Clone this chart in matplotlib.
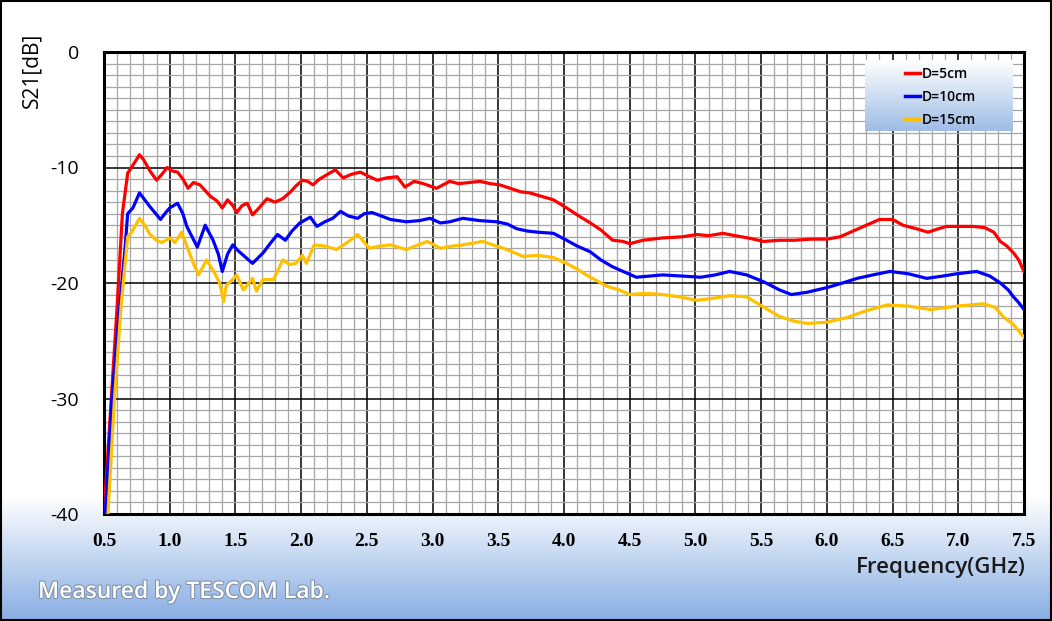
import numpy as np
import matplotlib
matplotlib.use("Agg")
import matplotlib.pyplot as plt
import matplotlib.patheffects as pe
from matplotlib.ticker import MultipleLocator, FixedLocator

# ---------------- data ----------------
freq_5cm = [
    0.50, 0.55, 0.60, 0.64, 0.68, 0.72, 0.77, 0.80, 0.85, 0.90,
    0.94, 0.98, 1.02, 1.06, 1.10, 1.14, 1.18, 1.23, 1.27, 1.31,
    1.36, 1.40, 1.44, 1.48, 1.51, 1.55, 1.59, 1.63, 1.68, 1.74,
    1.80, 1.86, 1.92, 1.96, 2.01, 2.05, 2.09, 2.14, 2.20, 2.26,
    2.32, 2.38, 2.45, 2.52, 2.58, 2.65, 2.73, 2.79, 2.86, 2.93,
    3.03, 3.13, 3.20, 3.28, 3.36, 3.44, 3.51, 3.59, 3.67, 3.74,
    3.80, 3.86, 3.92, 4.02, 4.10, 4.20, 4.28, 4.37, 4.45, 4.50,
    4.60, 4.75, 4.90, 5.01, 5.10, 5.21, 5.30, 5.40, 5.52, 5.64,
    5.75, 5.88, 6.00, 6.10, 6.18, 6.30, 6.40, 6.50, 6.58, 6.68,
    6.77, 6.85, 6.91, 7.00, 7.11, 7.20, 7.27, 7.32, 7.37, 7.42,
    7.46, 7.50]
s21_5cm = [
    -40, -31, -22, -14, -10.5, -9.8, -8.9, -9.3, -10.3, -11.1,
    -10.6, -10.0, -10.3, -10.4, -11.0, -11.8, -11.3, -11.5, -12.0, -12.5,
    -12.9, -13.5, -12.8, -13.3, -13.9, -13.3, -13.1, -14.1, -13.5, -12.7,
    -13.0, -12.7, -12.1, -11.6, -11.1, -11.2, -11.5, -11.0, -10.6, -10.2,
    -10.9, -10.6, -10.4, -10.8, -11.1, -10.9, -10.8, -11.7, -11.2, -11.4,
    -11.8, -11.2, -11.4, -11.3, -11.2, -11.4, -11.5, -11.8, -12.1, -12.2,
    -12.4, -12.6, -12.8, -13.5, -14.1, -14.8, -15.4, -16.3, -16.4, -16.6,
    -16.3, -16.1, -16.0, -15.8, -15.9, -15.7, -15.9, -16.1, -16.4, -16.3,
    -16.3, -16.2, -16.2, -16.0, -15.6, -15.0, -14.5, -14.5, -15.0, -15.3,
    -15.6, -15.3, -15.1, -15.1, -15.1, -15.2, -15.6, -16.4, -16.8, -17.4,
    -18.0, -19.0]

freq_10cm = [
    0.51, 0.56, 0.62, 0.66, 0.68, 0.72, 0.77, 0.81, 0.85, 0.93,
    0.97, 1.00, 1.06, 1.10, 1.13, 1.17, 1.21, 1.27, 1.33, 1.37,
    1.40, 1.44, 1.48, 1.52, 1.56, 1.63, 1.71, 1.77, 1.82, 1.88,
    1.93, 1.99, 2.07, 2.12, 2.18, 2.24, 2.30, 2.36, 2.43, 2.48,
    2.54, 2.61, 2.68, 2.80, 2.90, 2.98, 3.06, 3.13, 3.23, 3.36,
    3.49, 3.57, 3.64, 3.72, 3.80, 3.92, 4.02, 4.10, 4.20, 4.28,
    4.37, 4.45, 4.55, 4.65, 4.75, 4.90, 5.04, 5.15, 5.26, 5.39,
    5.52, 5.64, 5.73, 5.85, 6.00, 6.12, 6.23, 6.35, 6.48, 6.62,
    6.76, 6.88, 6.99, 7.14, 7.24, 7.32, 7.38, 7.42, 7.46, 7.50]
s21_10cm = [
    -40, -30, -22, -17, -14.0, -13.5, -12.2, -12.8, -13.4, -14.5,
    -13.9, -13.5, -13.1, -14.0, -15.1, -16.0, -16.9, -15.0, -16.3, -17.5,
    -19.0, -17.5, -16.7, -17.2, -17.6, -18.3, -17.4, -16.5, -15.8, -16.3,
    -15.5, -14.8, -14.3, -15.1, -14.7, -14.4, -13.8, -14.2, -14.4, -14.0,
    -13.9, -14.2, -14.5, -14.7, -14.6, -14.4, -14.8, -14.7, -14.4, -14.6,
    -14.7, -14.9, -15.3, -15.5, -15.6, -15.7, -16.3, -16.8, -17.3, -18.0,
    -18.6, -19.0, -19.5, -19.4, -19.3, -19.4, -19.5, -19.3, -19.0, -19.3,
    -19.9, -20.6, -21.0, -20.8, -20.4, -20.0, -19.6, -19.3, -19.0, -19.2,
    -19.6, -19.4, -19.2, -19.0, -19.4, -20.0, -20.6, -21.2, -21.7, -22.3]

freq_15cm = [
    0.53, 0.58, 0.63, 0.68, 0.71, 0.74, 0.77, 0.81, 0.85, 0.90,
    0.94, 1.00, 1.04, 1.09, 1.14, 1.18, 1.22, 1.28, 1.34, 1.38,
    1.41, 1.43, 1.47, 1.51, 1.56, 1.63, 1.66, 1.71, 1.79, 1.86,
    1.91, 1.96, 2.01, 2.04, 2.10, 2.18, 2.27, 2.35, 2.43, 2.52,
    2.60, 2.68, 2.80, 2.96, 3.06, 3.15, 3.23, 3.38, 3.54, 3.69,
    3.80, 3.92, 4.02, 4.10, 4.20, 4.33, 4.42, 4.50, 4.62, 4.75,
    4.88, 5.01, 5.15, 5.26, 5.39, 5.52, 5.64, 5.75, 5.85, 6.00,
    6.15, 6.30, 6.46, 6.62, 6.79, 6.99, 7.19, 7.28, 7.34, 7.42,
    7.50]
s21_15cm = [
    -40, -30, -22, -16.0, -15.6, -15.0, -14.4, -15.0, -15.8, -16.3,
    -16.5, -16.1, -16.5, -15.6, -17.1, -18.3, -19.3, -18.0, -19.1, -20.0,
    -21.6, -20.2, -19.8, -19.3, -20.6, -19.6, -20.7, -19.7, -19.7, -18.0,
    -18.4, -18.3, -17.6, -18.3, -16.7, -16.8, -17.1, -16.5, -15.8, -17.0,
    -16.8, -16.7, -17.1, -16.4, -17.0, -16.8, -16.7, -16.4, -17.0, -17.7,
    -17.6, -17.8, -18.3, -18.8, -19.5, -20.3, -20.6, -21.0, -20.9, -21.0,
    -21.2, -21.5, -21.3, -21.1, -21.2, -22.1, -22.9, -23.3, -23.5, -23.4,
    -23.0, -22.4, -21.9, -22.0, -22.3, -22.0, -21.8, -22.1, -22.9, -23.6,
    -24.7]

series_labels = ["D=5cm", "D=10cm", "D=15cm"]
series_colors = ["#ff0000", "#0000ff", "#ffc000"]
x_ticks = [0.5, 1.0, 1.5, 2.0, 2.5, 3.0, 3.5, 4.0, 4.5, 5.0, 5.5, 6.0, 6.5, 7.0, 7.5]
x_tick_labels = ["%.1f" % v for v in x_ticks]
y_ticks = [0, -10, -20, -30, -40]

SANS = "Open Sans"

# ---------------- figure ----------------
W, H = 1052, 621
fig = plt.figure(figsize=(W / 100, H / 100), dpi=100)

# background gradient (white -> blue at bottom)
bg = fig.add_axes([0, 0, 1, 1], zorder=-10)
bg.set_axis_off()
rows = np.linspace(0, 1, 400)[:, None]  # 0 top -> 1 bottom
start = 0.80
t = np.clip((rows - start) / (1 - start), 0, 1)
top_c = np.array([1.0, 1.0, 1.0])
bot_c = np.array([0.53, 0.68, 0.89])
grad = top_c[None, None, :] * (1 - t[..., None]) + bot_c[None, None, :] * t[..., None]
grad = np.repeat(grad, 4, axis=1)
bg.imshow(grad, aspect="auto", extent=[0, 1, 0, 1], origin="upper")
bg.set_xlim(0, 1)
bg.set_ylim(0, 1)
bg.add_patch(plt.Rectangle((0.001, 0.002), 0.998, 0.996, fill=False,
                           edgecolor="black", linewidth=1.5))

L, R, T, B = 104, 1024, 52, 514
ax = fig.add_axes([L / W, 1 - B / H, (R - L) / W, (B - T) / H])
ax.set_facecolor("white")

for f, s, lab, col in zip([freq_5cm, freq_10cm, freq_15cm],
                          [s21_5cm, s21_10cm, s21_15cm],
                          series_labels, series_colors):
    assert len(f) == len(s)
    ax.plot(f, s, color=col, linewidth=2.3, label=lab, zorder=5,
            solid_joinstyle="round")

ax.set_xlim(0.5, 7.5)
ax.set_ylim(-40, 0)
ax.xaxis.set_major_locator(FixedLocator(x_ticks))
ax.xaxis.set_minor_locator(MultipleLocator(0.1))
ax.yaxis.set_major_locator(FixedLocator(y_ticks))
ax.yaxis.set_minor_locator(MultipleLocator(1))
ax.grid(which="minor", color="#a6a6a6", linewidth=0.9)
ax.grid(which="major", color="black", linewidth=1.1)
ax.set_axisbelow(True)
ax.tick_params(which="both", length=0)
ax.tick_params(axis="x", pad=14)
ax.tick_params(axis="y", pad=18)
ax.set_xticklabels(x_tick_labels, fontfamily="Liberation Serif",
                   fontweight="bold", fontsize=14)
ax.set_yticklabels([str(v) for v in y_ticks], fontfamily=SANS,
                   fontsize=14, fontweight="medium")
for sp in ax.spines.values():
    sp.set_linewidth(2.2)
    sp.set_color("black")

# legend with gradient box
lx0, lx1 = (865 - L) / (R - L), (1013 - L) / (R - L)
ly0, ly1 = (B - 131) / (B - T), (B - 60) / (B - T)
lg_rows = np.linspace(0, 1, 100)[:, None]
lg_top = np.array([1.0, 1.0, 1.0])
lg_bot = np.array([0.62, 0.74, 0.90])
lg = lg_top[None, None, :] * (1 - lg_rows[..., None]) + lg_bot[None, None, :] * lg_rows[..., None]
lg = np.repeat(lg, 4, axis=1)
ax.imshow(lg, aspect="auto", extent=[0.5 + lx0 * 7, 0.5 + lx1 * 7, -40 + ly0 * 40, -40 + ly1 * 40],
          origin="upper", zorder=6)
ax.set_xlim(0.5, 7.5)
ax.set_ylim(-40, 0)
leg = ax.legend(loc="upper left", bbox_to_anchor=(lx0 + 0.030, ly1 + 0.012),
                frameon=False, handlelength=1.1, handletextpad=0.1,
                labelspacing=0.65, prop={"family": SANS, "size": 10, "weight": "semibold"})
leg.set_zorder(7)
for h in leg.get_lines():
    h.set_linewidth(2.5)

# labels
fig.text(32 / W, 1 - 70 / H, "S21[dB]", rotation=90, ha="center", va="center",
         fontsize=15, fontfamily=SANS, fontweight="medium", color="black")
fig.text(1026 / W, 1 - 567 / H, "Frequency(GHz)", ha="right", va="center",
         fontsize=16, fontfamily=SANS, fontweight="semibold", color="#1a1a1a")
fig.text(38 / W, 1 - 592 / H, "Measured by TESCOM Lab.", ha="left", va="center",
         fontsize=16.5, fontfamily=SANS, fontweight="semibold", color="white",
         path_effects=[pe.withStroke(linewidth=1.5, foreground="#7f8fa8")])

fig.savefig("out.png", dpi=100)
